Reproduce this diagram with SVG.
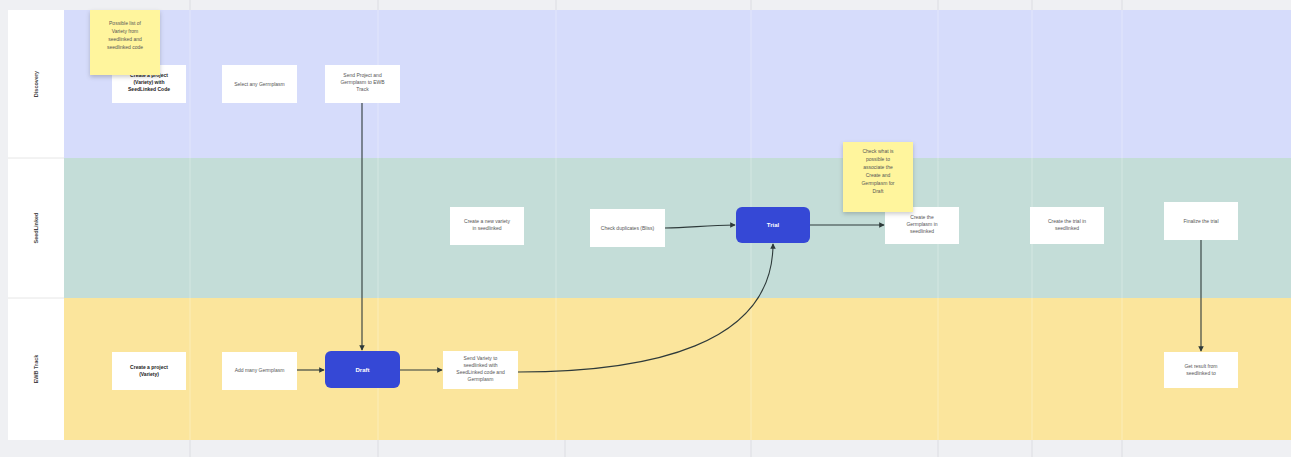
<svg xmlns="http://www.w3.org/2000/svg" width="1291" height="457" viewBox="0 0 1291 457">
<style>
.node{fill:#ffffff;}
.t{font-family:"Liberation Sans",Arial,sans-serif;font-size:5px;fill:#555;text-anchor:middle;}
.tb{font-family:"Liberation Sans",Arial,sans-serif;font-size:5px;fill:#222;font-weight:bold;text-anchor:middle;}
.tw{font-family:"Liberation Sans",Arial,sans-serif;font-size:6px;fill:#fff;font-weight:bold;text-anchor:middle;}
.lane{font-family:"Liberation Sans",Arial,sans-serif;font-size:5.5px;fill:#444;font-weight:bold;text-anchor:middle;}
.blue{fill:#3548d6;}
.sticky{fill:#fff59d;}
.conn{fill:none;stroke:#2e3a3a;stroke-width:1.1;}
.col{stroke:#ffffff;stroke-opacity:0.2;stroke-width:1.5;}
</style>
<defs>
<marker id="arr" viewBox="0 0 8 8" refX="7" refY="4" markerWidth="5" markerHeight="5" orient="auto">
<path d="M0,0 L8,4 L0,8 z" fill="#2e3a3a"/>
</marker>
<filter id="sh" x="-20%" y="-20%" width="140%" height="150%">
<feDropShadow dx="0" dy="2" stdDeviation="2" flood-color="#000" flood-opacity="0.2"/>
</filter>
</defs>
<rect x="0" y="0" width="1291" height="457" fill="#eff0f3"/>
<g id="lanes">
<rect x="8" y="10" width="56" height="430" fill="#ffffff"/>
<rect x="64" y="10" width="1227" height="148" fill="#d6dcfb"/>
<rect x="64" y="158" width="1227" height="140" fill="#c4ddd8"/>
<rect x="64" y="298" width="1227" height="142" fill="#fbe59c"/>
<line x1="8" y1="158" x2="64" y2="158" stroke="#e6e6e6"/>
<line x1="8" y1="298" x2="64" y2="298" stroke="#e6e6e6"/>
<g class="col">
<line x1="190" y1="10" x2="190" y2="440"/>
<line x1="378" y1="10" x2="378" y2="440"/>
<line x1="556" y1="10" x2="556" y2="440"/>
<line x1="751" y1="10" x2="751" y2="440"/>
<line x1="938" y1="10" x2="938" y2="440"/>
<line x1="1032" y1="10" x2="1032" y2="440"/>
<line x1="1122" y1="10" x2="1122" y2="440"/>
</g>
<g stroke="#dcdde2" stroke-width="1">
<line x1="190" y1="0" x2="190" y2="10"/><line x1="378" y1="0" x2="378" y2="10"/><line x1="556" y1="0" x2="556" y2="10"/><line x1="751" y1="0" x2="751" y2="10"/><line x1="938" y1="0" x2="938" y2="10"/><line x1="1032" y1="0" x2="1032" y2="10"/><line x1="1122" y1="0" x2="1122" y2="10"/>
<line x1="190" y1="440" x2="190" y2="457"/><line x1="378" y1="440" x2="378" y2="457"/><line x1="565" y1="440" x2="565" y2="457"/><line x1="751" y1="440" x2="751" y2="457"/><line x1="938" y1="440" x2="938" y2="457"/><line x1="1032" y1="440" x2="1032" y2="457"/><line x1="1122" y1="440" x2="1122" y2="457"/>
</g>
<text class="lane" transform="translate(38,84) rotate(-90)">Discovery</text>
<text class="lane" transform="translate(38,228) rotate(-90)">SeedLinked</text>
<text class="lane" transform="translate(38,369) rotate(-90)">EWB Track</text>
</g>
<g id="connectors">
<path class="conn" d="M362,103 L362,350" marker-end="url(#arr)"/>
<path class="conn" d="M297,370 L324,370" marker-end="url(#arr)"/>
<path class="conn" d="M400,370 L442,370" marker-end="url(#arr)"/>
<path class="conn" d="M518,372 C650,372 773,345 773,244" marker-end="url(#arr)"/>
<path class="conn" d="M665,228 C690,228 705,225 735,225" marker-end="url(#arr)"/>
<path class="conn" d="M810,225 L884,225" marker-end="url(#arr)"/>
<path class="conn" d="M1201,240 L1201,351" marker-end="url(#arr)"/>
</g>
<g id="a1"><rect class="node" x="112" y="65" width="74" height="38"/><text class="tb" x="149" y="77">Create a project</text><text class="tb" x="149" y="84">(Variety) with</text><text class="tb" x="149" y="91">SeedLinked Code</text></g>
<g id="a2"><rect class="node" x="222" y="65" width="75" height="38"/><text class="t" x="259.5" y="86">Select any Germplasm</text></g>
<g id="a3"><rect class="node" x="325" y="65" width="75" height="38"/><text class="t" x="362.5" y="77">Send Project and</text><text class="t" x="362.5" y="84">Germplasm to EWB</text><text class="t" x="362.5" y="91">Track</text></g>
<g id="sticky1"><rect class="sticky" x="90" y="10" width="70" height="65" filter="url(#sh)"/><text class="t" x="125" y="25">Possible list of</text><text class="t" x="125" y="33">Variety from</text><text class="t" x="125" y="41">seedlinked and</text><text class="t" x="125" y="49">seedlinked code</text></g>
<g id="b1"><rect class="node" x="450" y="207" width="74" height="38"/><text class="t" x="487" y="223">Create a new variety</text><text class="t" x="487" y="230">in seedlinked</text></g>
<g id="b2"><rect class="node" x="590" y="209" width="75" height="38"/><text class="t" x="627.5" y="230">Check duplicates (Bliss)</text></g>
<g id="trial"><rect class="blue" x="736" y="207" width="74" height="36" rx="6"/><text class="tw" x="773" y="227">Trial</text></g>
<g id="b3"><rect class="node" x="885" y="207" width="74" height="37"/><text class="t" x="922" y="219">Create the</text><text class="t" x="922" y="226">Germplasm in</text><text class="t" x="922" y="233">seedlinked</text></g>
<g id="sticky2"><rect class="sticky" x="843" y="142" width="70" height="70" filter="url(#sh)"/><text class="t" x="878" y="153">Check what is</text><text class="t" x="878" y="161">possible to</text><text class="t" x="878" y="169">associate the</text><text class="t" x="878" y="177">Create and</text><text class="t" x="878" y="185">Germplasm for</text><text class="t" x="878" y="193">Draft</text></g>
<g id="b4"><rect class="node" x="1030" y="207" width="74" height="37"/><text class="t" x="1067" y="223">Create the trial in</text><text class="t" x="1067" y="230">seedlinked</text></g>
<g id="b5"><rect class="node" x="1164" y="202" width="74" height="38"/><text class="t" x="1201" y="223">Finalize the trial</text></g>
<g id="c1"><rect class="node" x="112" y="352" width="74" height="38"/><text class="tb" x="149" y="369">Create a project</text><text class="tb" x="149" y="376">(Variety)</text></g>
<g id="c2"><rect class="node" x="222" y="352" width="75" height="38"/><text class="t" x="259.5" y="372">Add many Germplasm</text></g>
<g id="draft"><rect class="blue" x="325" y="351" width="75" height="37" rx="6"/><text class="tw" x="362.5" y="372">Draft</text></g>
<g id="c3"><rect class="node" x="443" y="351" width="75" height="38"/><text class="t" x="480.5" y="360">Send Variety to</text><text class="t" x="480.5" y="367">seedlinked with</text><text class="t" x="480.5" y="374">SeedLinked code and</text><text class="t" x="480.5" y="381">Germplasm</text></g>
<g id="c4"><rect class="node" x="1164" y="352" width="74" height="36"/><text class="t" x="1201" y="368">Get result from</text><text class="t" x="1201" y="375">seedlinked to</text></g>
</svg>
